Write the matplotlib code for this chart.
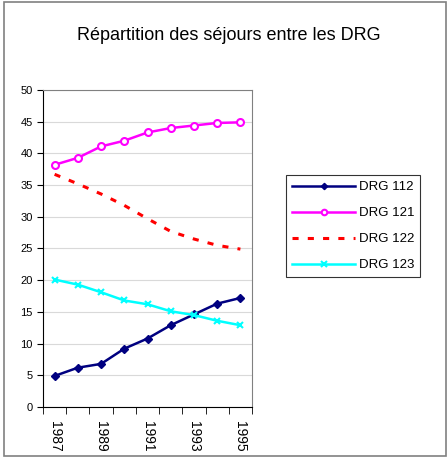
import matplotlib.pyplot as plt
from matplotlib.patches import Rectangle

years = ['1987', '1988', '1989', '1990', '1991', '1992', '1993', '1994', '1995']
drg112 = [4.9, 6.2, 6.8, 9.2, 10.8, 12.9, 14.6, 16.3, 17.2]
drg121 = [38.2, 39.3, 41.1, 42.0, 43.3, 44.0, 44.4, 44.8, 44.9]
drg122 = [36.7, 35.2, 33.6, 31.8, 29.7, 27.7, 26.5, 25.5, 24.9]
drg123 = [20.1, 19.3, 18.1, 16.8, 16.2, 15.1, 14.5, 13.6, 12.9]

plt.rcParams['font.family'] = ['Liberation Sans', 'DejaVu Sans']

fig = plt.figure(figsize=(4.48, 4.61), dpi=100)
ax = fig.add_axes([43/448, 1 - 407/461, 209/448, 317/461])

# frame round the whole chart
fig.patches.append(Rectangle((4/448, 5/461), 442/448, 454/461, transform=fig.transFigure,
                             fill=False, edgecolor='#808080', linewidth=1.2))

x = range(len(years))
ax.plot(x, drg112, color='#000080', marker='D', markersize=4, lw=1.8, label='DRG 112')
ax.plot(x, drg121, color='#FF00FF', marker='o', markersize=5, markerfacecolor='white',
        markeredgewidth=1.5, lw=1.8, label='DRG 121')
ax.plot(x, drg122, color='#FF0000', linestyle=(0, (2, 3)), lw=2.2, label='DRG 122')
ax.plot(x, drg123, color='#00FFFF', marker='x', markersize=5, markeredgewidth=1.5,
        lw=1.8, label='DRG 123')

ax.set_xlim(-0.5, len(years) - 0.5)
ax.set_ylim(0, 50)
ax.set_yticks(range(0, 51, 5))
ax.yaxis.grid(True, color='#d9d9d9', lw=0.8)
ax.set_axisbelow(True)
ax.tick_params(axis='y', labelsize=8, length=4, direction='out')

ax.set_xticks(list(x)[::2])
ax.set_xticklabels(years[::2], rotation=270, fontsize=10)
ax.set_xticks([i - 0.5 for i in range(len(years) + 1)], minor=True)
ax.tick_params(axis='x', which='major', length=0, pad=10)
ax.tick_params(axis='x', which='minor', length=5, direction='out')

for s in ['top', 'right']:
    ax.spines[s].set_color('#808080')
ax.spines['left'].set_color('black')
ax.spines['bottom'].set_color('black')

fig.text(229/448, 1 - 36/461, 'Répartition des séjours entre les DRG', ha='center', va='center', fontsize=13)

leg = fig.legend(loc='upper left', bbox_to_anchor=(286/448, 1 - 175/461), fontsize=9.5,
                 frameon=True, fancybox=False, edgecolor='black', handlelength=4.8,
                 handletextpad=0.25, labelspacing=1.05, borderpad=0.45, borderaxespad=0,
                 markerscale=0.8)
leg.get_frame().set_linewidth(0.8)

fig.savefig('out.png', dpi=100)
